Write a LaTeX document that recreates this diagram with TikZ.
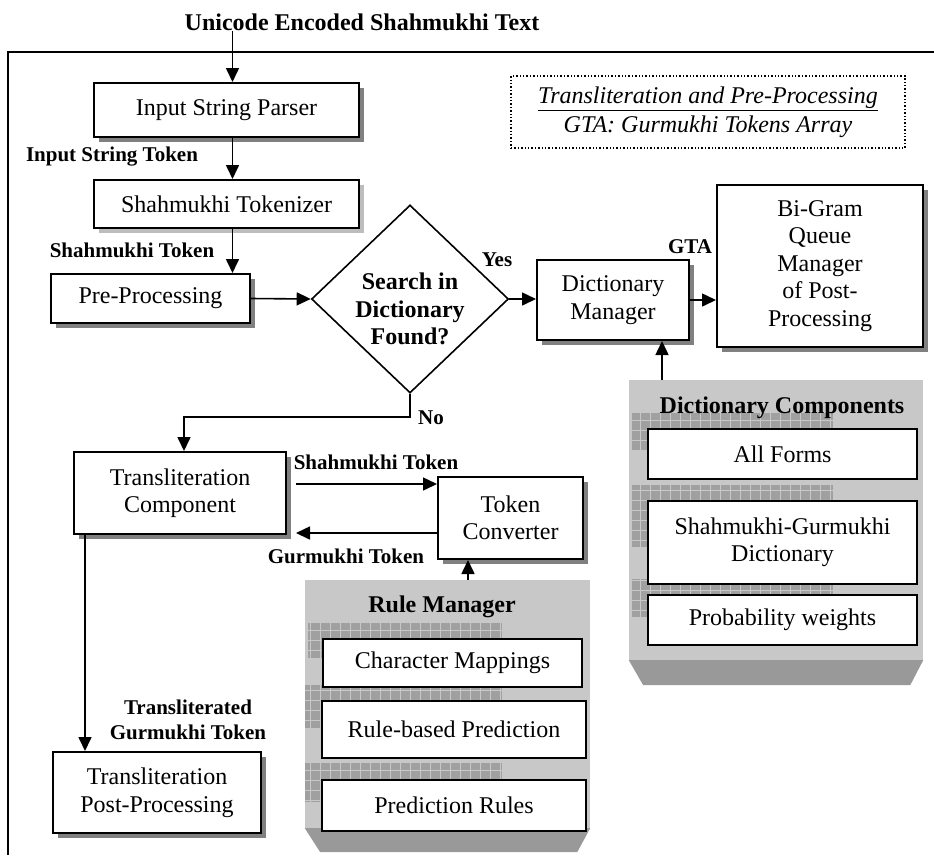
\documentclass[tikz,border=0pt]{standalone}
\usepackage{fontspec}
\setmainfont{Liberation Serif}
\usetikzlibrary{arrows.meta,shapes.geometric,shadows}
\newcommand{\boxfont}{\fontsize{24}{27.5}\selectfont}
\newcommand{\tagfont}{\fontsize{21}{25}\selectfont\bfseries}
\definecolor{panelgrey}{HTML}{C8C8C8}
\definecolor{plinthgrey}{HTML}{999999}
\definecolor{checkgrey}{HTML}{A0A0A0}
\definecolor{shadowgrey}{HTML}{808080}
\newcommand{\checker}[2]{%
  \fill[checkgrey] #1 rectangle #2;
  \draw[panelgrey, line width=0.4pt, step=10pt] #1 grid #2;}

\begin{document}
\begin{tikzpicture}[
  x=1pt,
  y=-1pt,
  every node/.style={font=\boxfont, align=center, inner sep=0pt},
  arrow/.style={line width=1.6pt, -{Triangle[length=14pt, width=13pt]}},
  frame/.style={line width=1.8pt},
  box/.style={draw, line width=2pt, fill=white,
              drop shadow={shadow xshift=5pt, shadow yshift=-5pt,
                           fill=shadowgrey, opacity=1}},
  hatchbox/.style={box, drop shadow={shadow xshift=5pt, shadow yshift=-5pt,
                           fill=checkgrey!70, opacity=1}},
  part/.style={draw, line width=2pt, fill=white},
  decision/.style={diamond, draw, line width=1.6pt, minimum width=197, minimum height=188},
  tag/.style={font=\tagfont},
  headline/.style={font=\boxfont\bfseries},
  panel/.style={fill=panelgrey},
  plinth/.style={fill=plinthgrey},
  note/.style={draw, line width=1.4pt, dotted, font=\boxfont\itshape}
]
  \useasboundingbox (0,0) rectangle (934,855);

  % ---- outer frame, cut by the page on the right and at the foot -------
  \draw[frame] (934,52) -- (8,52) -- (8,855);

  % ---- input side ------------------------------------------------------
  \node[headline] (source) at (362,22) {Unicode Encoded Shahmukhi Text};
  \node[box, minimum width=265, minimum height=54] (parser) at (226.5,110)
    {Input String Parser};
  \node[hatchbox, minimum width=265, minimum height=48] (tokenizer) at (226.5,204)
    {Shahmukhi Tokenizer};
  \node[box, minimum width=199, minimum height=49] (prepro) at (150.5,298.5)
    {Pre-Processing};

  \draw[arrow] ([xshift=6pt]parser.north |- source.south) -- ([xshift=6pt]parser.north);
  \draw[arrow] ([xshift=6pt]parser.south) -- ([xshift=6pt]tokenizer.north);
  \draw[arrow] ([xshift=6pt]tokenizer.south) -- ([xshift=6pt]tokenizer.south |- prepro.north);
  \node[tag] at (112,157) {Input String Token};
  \node[tag] at (132,250) {Shahmukhi Token};

  % ---- the dictionary test ---------------------------------------------
  \node[decision] (search) at (410,299) {};
  \node[headline] at (410,309) {Search in\\Dictionary\\Found?};
  \draw[arrow] (prepro.east) -- (search.west);

  \node[box, minimum width=152, minimum height=80] (dictmgr) at (613,300)
    {Dictionary\\Manager};
  \node[box, minimum width=206, minimum height=162] (bigram) at (820,266)
    {Bi-Gram\\Queue\\Manager\\of Post-\\Processing};
  \draw[arrow] (search.east) -- (search.east -| dictmgr.west);
  \draw[arrow] (dictmgr.east) -- (dictmgr.east -| bigram.west);
  \node[tag] at (497,260) {Yes};
  \node[tag] at (690,247) {GTA};

  % ---- legend ----------------------------------------------------------
  \node[note, minimum width=394, minimum height=72] (legend) at (708,112)
    {\underline{Transliteration and Pre-Processing}\\[1.5pt]GTA: Gurmukhi Tokens Array};

  % ---- dictionary components -------------------------------------------
  \node[panel, minimum width=294, minimum height=280] (dictcomp) at (776,520) {};
  \fill[plinth] (dictcomp.south west) -- (dictcomp.south east)
    -- ++(-13,25) -- ++(-267,0) -- cycle;
  \checker{(632,413)}{(833,450)}
  \checker{(632,485)}{(833,547)}
  \checker{(632,579)}{(833,617)}
  \node[headline] at (782,408) {Dictionary Components};
  \node[part, minimum width=269, minimum height=50] (allforms) at (782.5,454)
    {All Forms};
  \node[part, minimum width=269, minimum height=83] (lexicon) at (782.5,542.5)
    {Shahmukhi-Gurmukhi\\Dictionary};
  \node[part, minimum width=269, minimum height=50] (weights) at (782.5,620)
    {Probability weights};

  \coordinate (dictin) at ([xshift=-28pt]dictmgr.south east);
  \draw[arrow] (dictin |- dictcomp.north) -- (dictin);

  % ---- the not-found branch --------------------------------------------
  \node[box, minimum width=212, minimum height=82] (translit) at (180,493)
    {Transliteration\\Component};
  \draw[arrow] (search.south) -- ++(0,23) -| ([xshift=4pt]translit.north);
  \node[tag, anchor=west] at (418,418) {No};

  \node[box, minimum width=145, minimum height=82] (converter) at (510.5,518)
    {Token\\Converter};
  \coordinate (shout) at ([xshift=9pt, yshift=9pt]translit.east);
  \coordinate (guin) at ([xshift=9pt, yshift=-40pt]translit.east);
  \draw[arrow] (shout) -- (shout -| converter.west);
  \draw[arrow] (guin -| converter.west) -- (guin);
  \node[tag] at (376,462) {Shahmukhi Token};
  \node[tag] at (346,556) {Gurmukhi Token};

  % ---- rule manager ----------------------------------------------------
  \node[panel, minimum width=285, minimum height=248] (rulemgr) at (447.5,704) {};
  \fill[plinth] (rulemgr.south west) -- (rulemgr.south east)
    -- ++(-13,24) -- ++(-257,0) -- cycle;
  \checker{(308,623)}{(502,658)}
  \checker{(305,685)}{(502,728)}
  \checker{(305,763)}{(502,802)}
  \node[headline] at (442,607) {Rule Manager};
  \node[part, minimum width=259, minimum height=48] (charmap) at (452.5,663)
    {Character Mappings};
  \node[part, minimum width=264, minimum height=57] (rulepred) at (454,729.5)
    {Rule-based Prediction};
  \node[part, minimum width=264, minimum height=51] (predrules) at (454,805.5)
    {Prediction Rules};

  \coordinate (convin) at ([xshift=-42.5pt]converter.south);
  \draw[arrow] (convin |- rulemgr.north) -- (convin);

  % ---- output ----------------------------------------------------------
  \node[box, minimum width=208, minimum height=81] (postpro) at (157,792.5)
    {Transliteration\\Post-Processing};
  \coordinate (tgout) at ([xshift=12pt]translit.south west);
  \draw[arrow] (tgout) -- (tgout |- postpro.north);
  \node[tag] at (188,720) {Transliterated\\Gurmukhi Token};

\end{tikzpicture}
\end{document}
